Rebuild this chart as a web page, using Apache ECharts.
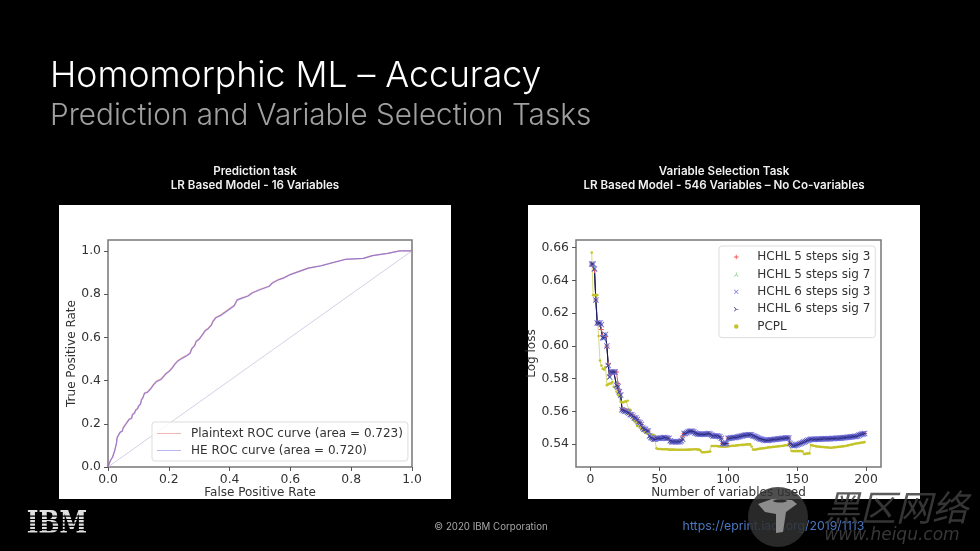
<!DOCTYPE html>
<html lang="en">
<head>
    <meta charset="UTF-8">
    <title>Homomorphic ML - Accuracy</title>
    <style>
        html, body { margin: 0; padding: 0; background: #000; }
        /* the source is a soft video frame */
        #main { width: 980px; height: 551px; filter: blur(0.45px); }
    </style>
</head>
<body>
<div id="main"></div>
<script src="https://cdn.jsdelivr.net/npm/echarts@6/dist/echarts.min.js"></script>
<script>
    // ROC curves
    var fpr = [0, .003, .008, .012, .015, .02, .022, .026, .028, .03, .036, .04, .047, .05, .056, .06, .065, .07, .078, .08, .088, .09, .098, .10, .107, .11, .115, .12, .13, .14, .15, .16, .175, .19, .20, .21, .22, .23, .245, .26, .27, .275, .285, .29, .30, .31, .32, .33, .34, .345, .355, .37, .385, .40, .415, .425, .44, .46, .475, .50, .53, .54, .56, .58, .60, .63, .66, .70, .74, .78, .84, .87, .92, .96, 1];
    var tprHe = [0, .012, .03, .03, .045, .05, .075, .078, .11, .135, .14, .16, .165, .18, .185, .20, .21, .22, .225, .24, .25, .26, .27, .28, .29, .31, .32, .34, .345, .36, .38, .395, .405, .43, .44, .455, .475, .49, .503, .515, .525, .545, .56, .58, .59, .61, .63, .64, .655, .672, .69, .70, .715, .73, .745, .772, .78, .79, .805, .82, .835, .85, .865, .875, .89, .905, .92, .93, .945, .96, .965, .978, .988, 1, 1];
    var tprPlain = [0, .012, .03, .032, .046, .052, .076, .08, .112, .137, .142, .162, .168, .183, .188, .203, .213, .223, .228, .243, .253, .263, .273, .283, .293, .313, .323, .343, .348, .363, .383, .398, .408, .433, .443, .458, .478, .493, .506, .518, .528, .548, .563, .583, .593, .613, .633, .643, .658, .675, .693, .703, .718, .733, .748, .775, .782, .792, .807, .822, .837, .852, .867, .877, .891, .906, .921, .931, .946, .96, .965, .978, .988, 1, 1];
    var diagonal = [[0, 0], [1, 1]];

    // log loss per number of variables used (1..199)
    var hchl6Sig3 = [
        .650, .650, .647, .628, .614, .614, .614, .613, .605, .605,
        .607, .600, .588, .581, .584, .584, .584, .584, .576, .575,
        .572, .570, .561, .5605, .560, .560, .5595, .559, .558, .558,
        .557, .556, .556, .555, .5535, .553, .552, .550, .549, .549,
        .548, .548, .545, .544, .5435, .543, .543, .5435, .5435, .5435,
        .5435, .5435, .544, .544, .5435, .5435, .5435, .542, .5415, .5415,
        .5415, .5415, .5415, .5415, .5415, .542, .543, .5465, .5465, .547,
        .5475, .5478, .5478, .5478, .5475, .5468, .5465, .5462, .546, .546,
        .546, .546, .546, .5462, .5462, .5465, .546, .5455, .545, .545,
        .545, .545, .5448, .5445, .5435, .5404, .5402, .5402, .5404, .5435,
        .5435, .5437, .5438, .544, .544, .5442, .5444, .5446, .5448, .545,
        .5452, .5454, .5455, .5456, .5457, .5457, .5457, .545, .5448, .5445,
        .544, .5436, .5432, .543, .5428, .5425, .5423, .5422, .5423, .5425,
        .5426, .5427, .5428, .5429, .543, .5431, .5432, .5433, .5434, .5435,
        .5436, .5437, .5437, .5437, .5404, .5398, .5392, .539, .5393, .5396,
        .5399, .5402, .5405, .5409, .5412, .5416, .542, .5424, .5427, .5429,
        .5429, .5428, .5429, .543, .543, .543, .5431, .5431, .5432, .5432,
        .5432, .5433, .5433, .5433, .5434, .5434, .5434, .5435, .5435, .5435,
        .5436, .5437, .5438, .5439, .544, .5441, .5442, .5443, .5444, .5445,
        .5446, .5447, .5448, .545, .5455, .5458, .546, .5463, .5465
    ];
    var hchl5Sig3 = [
        .650, .649, .646, .628, .614, .614, .613, .610, .606, .605,
        .606, .600, .589, .582, .584, .584, .584, .584, .584, .577,
        .573, .571, .561, .561, .5605, .5605, .560, .559, .5585, .558,
        .557, .5565, .556, .555, .554, .553, .552, .5505, .549, .549,
        .5485, .548, .546, .544, .5435, .543, .543, .5432, .5435, .5435,
        .5435, .5435, .5438, .544, .5435, .5435, .5435, .542, .5415, .5415,
        .5415, .5415, .5415, .5415, .5415, .5425, .545, .5465, .5465, .547,
        .5475, .5478, .5478, .5478, .5475, .5468, .5465, .5462, .546, .546,
        .546, .546, .546, .5462, .5462, .5465, .546, .5455, .545, .545,
        .545, .545, .5448, .5445, .5435, .5404, .5402, .5402, .5404, .5435,
        .5435, .5437, .5438, .544, .544, .5442, .5444, .5446, .5448, .545,
        .5452, .5454, .5455, .5456, .5457, .5457, .5457, .545, .5448, .5445,
        .544, .5436, .5432, .543, .5428, .5425, .5423, .5422, .5423, .5425,
        .5426, .5427, .5428, .5429, .543, .5431, .5432, .5433, .5434, .5435,
        .5436, .5437, .5437, .5437, .5404, .5398, .5392, .539, .5393, .5396,
        .5399, .5402, .5405, .5409, .5412, .5416, .542, .5424, .5427, .5429,
        .5429, .5428, .5429, .543, .543, .543, .5431, .5431, .5432, .5432,
        .5432, .5433, .5433, .5433, .5434, .5434, .5434, .5435, .5435, .5435,
        .5436, .5437, .5438, .5439, .544, .5441, .5442, .5443, .5444, .5445,
        .5446, .5447, .5448, .545, .5455, .5458, .546, .5463, .5465
    ];
    // the two sig 7 runs sit on the sig 3 run of 6 steps in the picture
    var hchl5Sig7 = hchl6Sig3;
    var hchl6Sig7 = hchl6Sig3;
    var pcpl = [
        .657, .631, .631, .631, .631, .606, .591, .588, .586, .5855,
        .587, .576, .5765, .577, .577, .578, .575, .5745, .572, .570,
        .569, .566, .5655, .5655, .566, .566, .5665, .561, .561, .559,
        .555, .554, .553, .551, .552, .550, .549, .548, .5475, .547,
        .5465, .546, .546, .5458, .5456, .5455, .545, .5375, .537, .537,
        .537, .5368, .5368, .5368, .5368, .5368, .5366, .5366, .5366, .5366,
        .5366, .5365, .5365, .5365, .5365, .5365, .5365, .5365, .5365, .5365,
        .5366, .5366, .5367, .5367, .5368, .5368, .5368, .5366, .5366, .536,
        .535, .535, .535, .5352, .5352, .5353, .5355, .5388, .5388, .5388,
        .5388, .5388, .5386, .5386, .5386, .5384, .5384, .5384, .5386, .5386,
        .5388, .5388, .539, .539, .539, .5392, .5392, .5394, .5394, .5395,
        .5395, .5396, .5398, .5398, .5398, .5398, .5385, .5367, .5365, .5367,
        .5369, .537, .5372, .5373, .5374, .5375, .5376, .5378, .538, .538,
        .5381, .5382, .5383, .5384, .5385, .5386, .5387, .5388, .5388, .539,
        .5392, .5393, .5394, .5394, .5394, .5358, .5357, .5357, .5357, .5357,
        .5357, .5357, .5357, .5355, .5339, .534, .5342, .5343, .5343, .5394,
        .5392, .539, .5388, .5386, .5385, .5384, .5383, .5382, .5382, .5381,
        .538, .538, .5379, .5378, .5378, .5379, .538, .5381, .5382, .5383,
        .5384, .5385, .5386, .5387, .5388, .539, .5392, .5394, .5396, .5398,
        .54, .5402, .5404, .5405, .5406, .5408, .5409, .541, .5412
    ];

    var rocTicks = [0, 0.2, 0.4, 0.6, 0.8, 1];
    var lossTicks = [0.54, 0.56, 0.58, 0.60, 0.62, 0.64, 0.66];
    var countTicks = [0, 50, 100, 150, 200];

    var FONT = 'DejaVu Sans';
    var TITLE_FONT = 'Inter';

    // marker shapes
    var PLUS = 'path://M4 0H6V4H10V6H6V10H4V6H0V4H4Z';
    var CROSS = 'path://M1 0L5 4L9 0L10 1L6 5L10 9L9 10L5 6L1 10L0 9L4 5L0 1Z';
    var TRI_UP = 'path://M4.4 0H5.6V5L10 9L9 10L5 6.2L1 10L0 9L4.4 5Z';
    var TRI_RIGHT = 'path://M0 1L1 0L5.5 4.4H10V5.6H5.5L1 10L0 9L4 5Z';

    function zip(xs, ys) {
        return xs.map(function (x, i) { return [x, ys[i]]; });
    }
    function byCount(ys) {
        return ys.map(function (y, i) { return [i + 1, y]; });
    }
    function axis(min, max, ticks, digits, name, gap, gridIndex) {
        return {
            type: 'value',
            gridIndex: gridIndex,
            min: min,
            max: max,
            name: name,
            nameGap: gap,
            nameLocation: 'middle',
            nameTextStyle: { color: '#333', fontFamily: FONT, fontSize: 12 },
            axisLine: { show: false, onZero: false },
            splitLine: { show: false },
            axisTick: { show: true, length: 4, customValues: ticks, lineStyle: { color: '#555', width: 1 } },
            axisLabel: {
                customValues: ticks,
                color: '#333',
                fontFamily: FONT,
                fontSize: 12.4,
                margin: 7,
                formatter: function (v) { return Number(v).toFixed(digits); }
            }
        };
    }
    function lossSeries(name, data, symbol, color, lineColor, size) {
        return {
            name: name,
            type: 'line',
            xAxisIndex: 1,
            yAxisIndex: 1,
            data: byCount(data),
            symbol: symbol,
            symbolSize: size,
            showSymbol: true,
            showAllSymbol: true,
            lineStyle: { color: lineColor, width: 0.8 },
            itemStyle: { color: color },
            emphasis: { disabled: true }
        };
    }
    function text(x, y, str, size, color, weight, align, extra) {
        return Object.assign({
            type: 'text',
            x: x,
            y: y,
            z: 50,
            style: {
                text: str,
                fill: color,
                font: weight + ' ' + size + 'px "' + TITLE_FONT + '"',
                textAlign: align,
                textVerticalAlign: 'middle'
            }
        }, extra || {});
    }
    function fontText(x, y, str, font, color, extra) {
        var t = text(x, y, str, 10, color, 400, 'center', extra);
        t.style.font = font;
        return t;
    }
    function panel(x) {
        return { type: 'rect', z: -1, shape: { x: x, y: 205, width: 392, height: 294 }, style: { fill: '#fff' } };
    }
    function stripe(y) {
        return { type: 'rect', z: 51, shape: { x: 26, y: y, width: 62, height: 1.2 }, style: { fill: '#000' } };
    }

    var myChart = echarts.init(document.getElementById('main'));
    myChart.setOption({
        backgroundColor: '#000',
        animation: false,
        tooltip: { show: false },
        grid: [
            { left: 108, top: 240, width: 304, height: 227, show: true, backgroundColor: '#fff', borderColor: '#777', borderWidth: 1.5 },
            { left: 576, top: 240, width: 305, height: 227, show: true, backgroundColor: '#fff', borderColor: '#777', borderWidth: 1.5 }
        ],
        xAxis: [
            axis(0, 1, rocTicks, 1, 'False Positive Rate', 19, 0),
            axis(-10.4, 210.9, countTicks, 0, 'Number of variables used', 19, 1)
        ],
        yAxis: [
            axis(0, 1.05, rocTicks, 1, 'True Positive Rate', 27, 0),
            axis(0.526, 0.6647, lossTicks, 2, 'Log loss', 32, 1)
        ],
        legend: [
            {
                left: 152, top: 422,
                orient: 'vertical',
                padding: [5.5, 5, 4.5, 5],
                itemGap: 5,
                itemWidth: 24,
                itemHeight: 1,
                icon: 'rect',
                selectedMode: false,
                backgroundColor: 'rgba(255,255,255,0.8)',
                borderColor: '#ddd',
                borderWidth: 1,
                borderRadius: 3,
                textStyle: { color: '#333', fontFamily: FONT, fontSize: 12, padding: [0, 0, 0, 5] },
                data: ['Plaintext ROC curve (area = 0.723)', 'HE ROC curve (area = 0.720)']
            },
            {
                left: 719, top: 246,
                orient: 'vertical',
                padding: [5, 5, 5, 15],
                itemGap: 5.4,
                itemWidth: 24,
                itemHeight: 4.5,
                selectedMode: false,
                backgroundColor: 'rgba(255,255,255,0.8)',
                borderColor: '#ddd',
                borderWidth: 1,
                borderRadius: 3,
                itemStyle: { borderWidth: 0 },
                textStyle: { color: '#333', fontFamily: FONT, fontSize: 12, padding: [0, 0, 0, 4] },
                data: [
                    { name: 'HCHL 5 steps sig 3', icon: PLUS },
                    { name: 'HCHL 5 steps sig 7', icon: TRI_UP },
                    { name: 'HCHL 6 steps sig 3', icon: CROSS },
                    { name: 'HCHL 6 steps sig 7', icon: TRI_RIGHT },
                    { name: 'PCPL', icon: 'circle' }
                ]
            }
        ],
        series: [
            {
                name: 'chance',
                type: 'line',
                data: diagonal,
                symbol: 'none',
                lineStyle: { color: '#d4d0e4', width: 1 },
                emphasis: { disabled: true }
            },
            {
                name: 'Plaintext ROC curve (area = 0.723)',
                type: 'line',
                data: zip(fpr, tprPlain),
                symbol: 'none',
                lineStyle: { color: 'rgba(225,110,110,0.6)', width: 1.2 },
                itemStyle: { color: '#f2b8b8' },
                emphasis: { disabled: true }
            },
            {
                name: 'HE ROC curve (area = 0.720)',
                type: 'line',
                data: zip(fpr, tprHe),
                symbol: 'none',
                lineStyle: { color: 'rgba(120,100,215,0.7)', width: 1.2 },
                itemStyle: { color: '#b8b8f2' },
                emphasis: { disabled: true }
            },
            lossSeries('HCHL 5 steps sig 3', hchl5Sig3, PLUS, '#f05a5a', '#e03030', 5),
            lossSeries('HCHL 5 steps sig 7', hchl5Sig7, TRI_UP, '#6cbf6c', '#3a9a3a', 5),
            lossSeries('PCPL', pcpl, 'circle', '#c4c42a', '#cfcf60', 2.6),
            lossSeries('HCHL 6 steps sig 3', hchl6Sig3, CROSS, '#6a6ae6', '#10107a', 6),
            lossSeries('HCHL 6 steps sig 7', hchl6Sig7, TRI_RIGHT, '#24246e', '#10106a', 3.5)
        ],
        graphic: [
            panel(59),
            panel(528),
            text(50, 76, 'Homomorphic ML – Accuracy', 35.6, '#fff', 300, 'left'),
            text(50, 116, 'Prediction and Variable Selection Tasks', 29.7, '#a0a0a0', 300, 'left'),
            text(255, 172, 'Prediction task', 11.6, '#f0f0f0', 600, 'center'),
            text(255, 186, 'LR Based Model - 16 Variables', 11.6, '#f0f0f0', 600, 'center'),
            text(724, 172, 'Variable Selection Task', 11.6, '#f0f0f0', 600, 'center'),
            text(724, 186, 'LR Based Model - 546 Variables – No Co-variables', 11.6, '#f0f0f0', 600, 'center'),
            text(491, 527, '© 2020 IBM Corporation', 9.7, '#a8a8a8', 400, 'center'),
            text(773.5, 526, 'https://eprint.iacr.org/2019/1113', 12.3, '#4a78c0', 400, 'center'),
            // IBM logo, striped
            fontText(57, 525, 'IBM', '700 25px "DejaVu Serif"', '#e0e0e0', { scaleY: 1.3 }),
            stripe(515.5), stripe(518.9), stripe(522.3), stripe(525.7), stripe(529.1), stripe(532.5),
            // heiqu watermark
            { type: 'circle', z: 60, shape: { cx: 778, cy: 517, r: 30 }, style: { fill: 'rgba(48,48,48,0.85)' } },
            { type: 'polygon', z: 61, shape: { points: [[758, 504], [772, 499], [792, 500], [797, 504], [786, 512], [783, 532], [776, 533], [776, 514], [765, 512]] }, style: { fill: '#8c8c8c' } },
            { type: 'ellipse', z: 62, shape: { cx: 780, cy: 501, rx: 7, ry: 1.5 }, style: { fill: '#2a2a2a' } },
            fontText(896, 507, '黑区网络', 'italic 400 36px "Noto Sans CJK SC"', 'rgba(62,62,62,0.85)'),
            fontText(892, 536, 'www.heiqu.com', 'italic 400 17px "DejaVu Sans"', 'rgba(62,62,62,0.9)')
        ]
    });
</script>
</body>
</html>
